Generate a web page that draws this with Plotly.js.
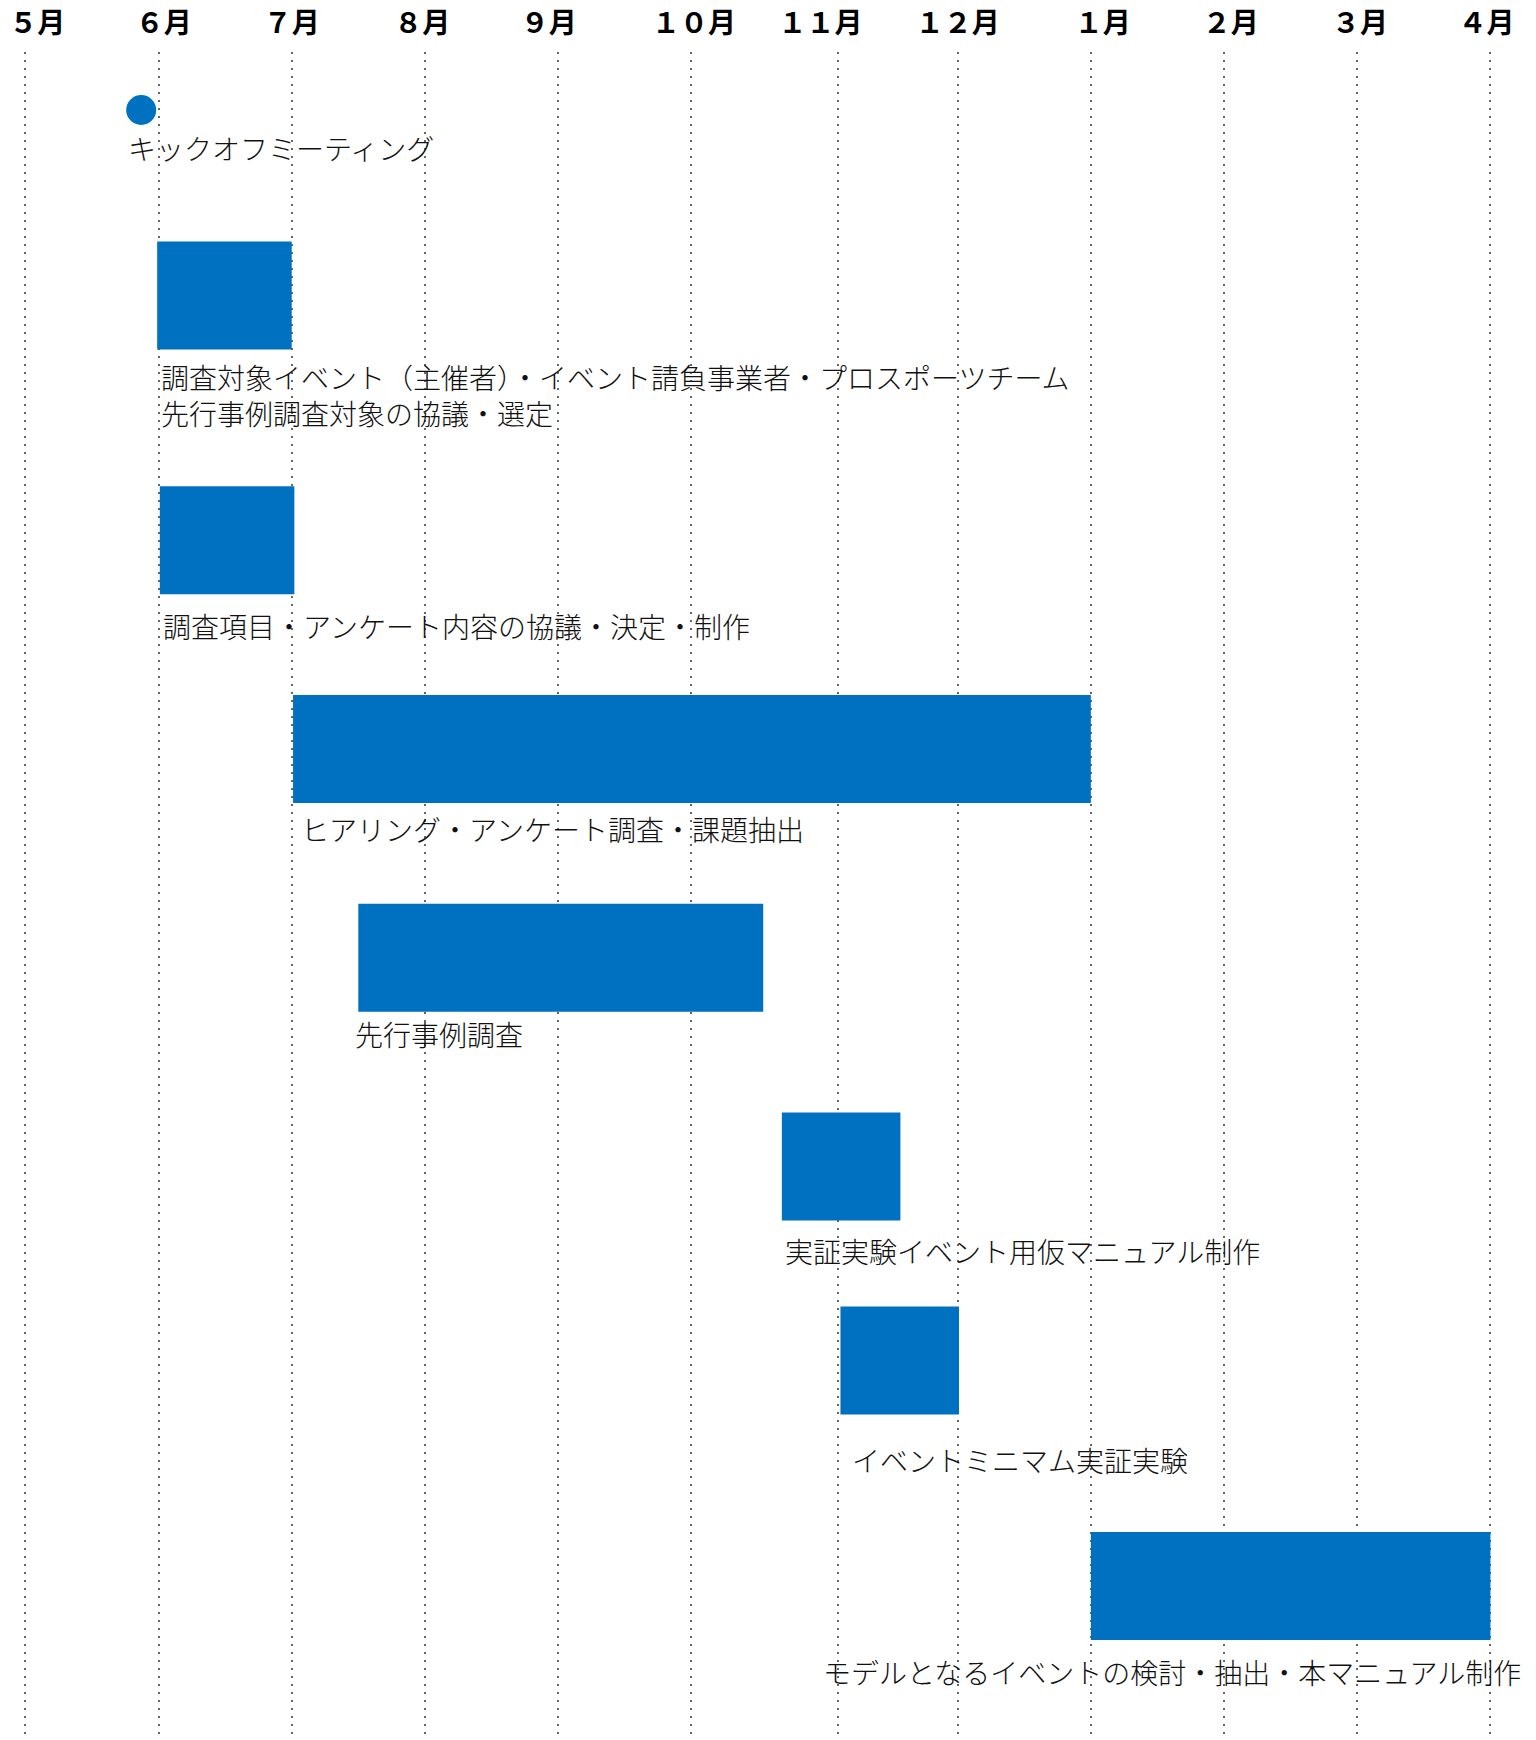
<!DOCTYPE html>
<html>
<head>
<meta charset="utf-8">
<script src="https://cdn.plot.ly/plotly-3.0.1.min.js"></script>
<style>
  html, body { margin: 0; padding: 0; background: #ffffff; }
  #chart { width: 1536px; height: 1740px; }
</style>
</head>
<body>
<div id="chart"></div>
<script>
// ---- data (x in month units: 0 = ５月 … 11 = ４月; y in row units) ----
const monthLabels   = ['５月','６月','７月','８月','９月','１０月','１１月','１２月','１月','２月','３月','４月'];
const monthLabelPos = [0.09, 1.04, 2.0, 2.98, 3.93, 5.02, 5.97, 7.0, 8.09, 9.05, 10.02, 10.97];
const gridPos       = [0, 1, 2, 3, 4, 5, 6.1, 7, 8, 9, 10, 11];

const milestoneName = 'キックオフミーティング';
const milestoneX    = 0.87;
const milestoneRow  = 0;

const taskNames = [
  '調査対象イベント（主催者）・イベント請負事業者・プロスポーツチーム<br>先行事例調査対象の協議・選定',
  '調査項目・アンケート内容の協議・決定・制作',
  'ヒアリング・アンケート調査・課題抽出',
  '先行事例調査',
  '実証実験イベント用仮マニュアル制作',
  'イベントミニマム実証実験',
  'モデルとなるイベントの検討・抽出・本マニュアル制作'
];
const taskStart = [0.99, 1.01, 2.01, 2.50, 5.68, 6.12, 8.00];
const taskEnd   = [2.00, 2.02, 8.00, 5.54, 6.57, 7.01, 11.00];
const taskRow   = [0.88, 2.04, 3.03, 4.02, 5.01, 5.93, 7.00];

// ---- layout helpers (pixel offsets of the captions) ----
const capDX = [-15, 2, 1, 6, -5, 1, 10, -270];
const capDY = [38, 99, 86, 80, 76, 85, 100, 86];

const BLUE = '#0070C0';
const FONT = '"Noto Sans CJK JP", "Noto Sans", sans-serif';

const traces = [
  {
    type: 'bar',
    orientation: 'h',
    y: taskRow,
    base: taskStart,
    x: taskStart.map((s, i) => taskEnd[i] - s),
    width: 0.512,
    marker: { color: BLUE, line: { width: 0 } },
    hoverinfo: 'skip',
    showlegend: false
  },
  {
    type: 'scatter',
    mode: 'markers',
    x: [milestoneX],
    y: [milestoneRow],
    marker: { color: BLUE, size: 30, line: { width: 0 } },
    hoverinfo: 'skip',
    showlegend: false
  },
  {
    type: 'scatter',
    mode: 'markers',
    xaxis: 'x2',
    x: [monthLabelPos[0]],
    y: [milestoneRow],
    marker: { opacity: 0 },
    hoverinfo: 'skip',
    showlegend: false
  }
];

const annotations = [];
annotations.push({
  x: milestoneX, y: milestoneRow, xref: 'x', yref: 'y',
  text: milestoneName, showarrow: false,
  xanchor: 'left', yanchor: 'middle', align: 'left',
  xshift: capDX[0], yshift: -capDY[0],
  font: { family: FONT, size: 28, color: '#111111', weight: 300 }
});
taskNames.forEach((t, i) => {
  annotations.push({
    x: taskStart[i], y: taskRow[i], xref: 'x', yref: 'y',
    text: t, showarrow: false,
    xanchor: 'left', yanchor: 'middle', align: 'left',
    xshift: capDX[i + 1], yshift: -capDY[i + 1],
    font: { family: FONT, size: 28, color: '#111111', weight: 300 }
  });
});

const layout = {
  width: 1536,
  height: 1740,
  margin: { l: 0, r: 0, t: 52, b: 0, pad: 0 },
  paper_bgcolor: '#ffffff',
  plot_bgcolor: '#ffffff',
  font: { family: FONT, color: '#000000' },
  showlegend: false,
  xaxis: {
    range: [-0.19, 11.342],
    tickmode: 'array',
    tickvals: gridPos,
    showticklabels: false,
    ticks: '',
    showgrid: true,
    gridcolor: '#666666',
    gridwidth: 2,
    griddash: '2px,6px',
    zeroline: false,
    showline: false,
    fixedrange: true
  },
  xaxis2: {
    overlaying: 'x',
    matches: 'x',
    side: 'top',
    anchor: 'y',
    tickmode: 'array',
    tickvals: monthLabelPos,
    ticktext: monthLabels,
    ticks: '',
    ticklabelstandoff: 12,
    ticklabeloverflow: 'allow',
    showgrid: false,
    zeroline: false,
    showline: false,
    tickfont: { family: FONT, size: 28, color: '#000000', weight: 'bold' },
    fixedrange: true
  },
  yaxis: {
    range: [7.730, -0.275],
    showticklabels: false,
    ticks: '',
    showgrid: false,
    zeroline: false,
    showline: false,
    fixedrange: true
  },
  annotations: annotations
};

Plotly.newPlot('chart', traces, layout, { staticPlot: true, displayModeBar: false });
</script>
</body>
</html>
